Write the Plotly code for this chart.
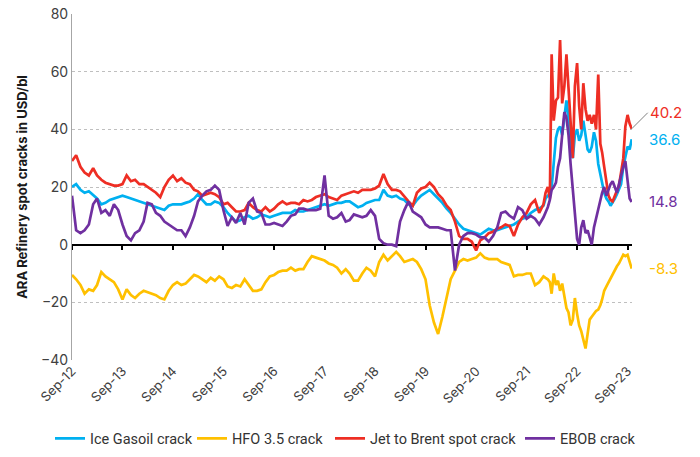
import pandas as pd
import plotly.graph_objects as go

# ---- dates: monthly Sep-12..Dec-21, then twice a month Jan-22..Oct-23 ----
monthly_dates = list(pd.date_range("2012-09-01", "2021-12-01", freq="MS"))
semi_dates = []
for d in pd.date_range("2022-01-01", "2023-09-01", freq="MS"):
    semi_dates += [d, d + pd.Timedelta(days=15)]
semi_dates.append(pd.Timestamp("2023-10-01"))
dates = monthly_dates + semi_dates

# ---- series values (USD/bl) ----
gasoil = [
    20, 21, 19, 18, 18.5, 17, 16, 14, 14.5, 15.5, 16, 16.5,
    17, 16.5, 16, 15.5, 15, 14.5, 14, 13.5, 13, 12.5, 12, 13.5,
    14, 14, 14, 14.5, 15, 16, 17.5, 15.5, 14, 14, 15, 14.5,
    13, 11, 9.5, 8, 8.5, 9.5, 10, 9, 9.5, 10.5, 10, 9.5,
    10, 10.5, 11, 11, 11, 12, 11.5, 11.5, 12, 12.5, 13, 13.5,
    14, 13.5, 14, 14.5, 14.5, 15, 15, 14, 13, 13.5, 14.5, 15,
    15.5, 15.5, 19, 17, 16.5, 17, 16, 15.5, 14, 13.5, 15.5, 17,
    18, 19, 17.5, 16, 14.5, 12.5, 11, 9, 7, 5.5, 5, 4.5,
    4, 3.5, 4.5, 5.5, 5, 5, 5.5, 6, 6.5, 7, 8, 9,
    9.5, 11, 12, 12.5,
    13.5, 16, 17, 17, 20, 29, 37, 40, 41, 38, 44, 50,
    44, 34, 30, 38, 40, 36, 38, 43, 38, 33, 32, 34,
    39, 36, 28, 24, 22, 18, 16, 15, 13.5, 14.5, 16, 17.5,
    19, 21, 27, 31, 34, 33, 36.6,
]
hfo = [
    -10.5, -12, -14, -17, -15.5, -16, -14, -9.5, -11, -12, -13, -15.5,
    -19, -15.5, -17.5, -18.5, -17, -16, -16.5, -17, -17.5, -18.5, -19, -16,
    -14, -13, -14, -13.5, -12, -10.5, -11, -12, -13, -11.5, -12.5, -11,
    -12, -14.5, -15, -14, -14.5, -12, -14, -16, -16, -15.5, -13, -11,
    -10.5, -9.5, -9, -9, -8, -9, -8.5, -8.5, -6, -4, -4.5, -5,
    -5.5, -6.5, -7, -8, -10, -8.5, -10, -12.5, -12.5, -10, -8, -9,
    -11, -6, -3.5, -5.5, -4, -2.5, -4, -6, -5.5, -5, -6, -8.5,
    -12, -21, -27, -31, -25, -18, -12, -9, -6, -5, -5.5, -5,
    -4.5, -3, -4.5, -5, -5, -5, -6, -6.5, -7, -11, -10.5, -10.5,
    -10, -10, -14, -13,
    -11, -11.5, -12, -13, -17, -10, -14, -12.5, -16, -13.5, -17.5, -22,
    -23.5, -28, -26, -18.5, -24, -28, -30, -33, -36, -31, -26, -25,
    -24, -23, -22.5, -21, -19, -16, -14.5, -13, -11.5, -10, -8.5, -7.5,
    -6.5, -5, -3.5, -4, -3.5, -6, -8.3,
]
jet = [
    29, 31, 27, 25, 24, 26.5, 24, 22.5, 21.5, 21, 20.5, 20.5,
    21, 24, 22, 22.5, 21, 21, 20, 19, 18, 16.5, 20, 22.5,
    24, 22, 23, 21.5, 21, 19, 18.5, 17, 17.5, 18, 17.5, 16.5,
    14, 14.5, 13, 11.5, 11.5, 12, 14.5, 13, 12, 11.5, 13, 11.5,
    12.5, 14, 15, 14, 14.5, 14.5, 14, 15.5, 15, 15.5, 16.5, 17,
    17.5, 16.5, 16, 15.5, 17, 17.5, 18, 18.5, 18, 19, 19, 19,
    19.5, 20.5, 24.5, 21, 19, 19, 18.5, 16.5, 15, 13.5, 18, 19.5,
    20, 21.5, 20, 17.5, 16, 13.5, 12, 8, 3, 2, 2, 1,
    -2, 1.5, 2.5, 4, 4.5, 5.5, 6, 7, 6.5, 3, 7, 9.5,
    11, 14, 15.5, 11,
    14, 18, 20, 16, 66, 43, 50, 51, 71, 49, 55, 66,
    55, 41, 30, 55, 63, 48, 40, 56, 47, 43, 45, 42,
    45, 40, 59, 35, 32, 27, 22, 17, 15.5, 15, 17, 18.5,
    20.5, 25, 30, 41, 45, 42, 40.2,
]
ebob = [
    17, 5, 4, 5, 7, 14, 16, 11, 12, 10, 14, 12,
    7, 3, 1.5, 4, 5, 8, 14.5, 14, 11, 10, 8, 7,
    6, 5, 5, 3, 6, 10, 15, 17, 18.5, 19, 20.5, 19,
    12, 6.5, 9.5, 7.5, 11, 7, 14.5, 16, 11.5, 11, 7, 7,
    7.5, 7, 6.5, 8, 10, 10.5, 12.5, 12.5, 12, 12, 12, 12.5,
    24, 10, 9, 9.5, 11, 8, 8.5, 10.5, 10, 9.5, 10, 12,
    10, 2, 0.5, 0, 0, -0.5, 8, 12, 15, 11.5, 10.5, 9.5,
    7, 6, 6, 6, 5.5, 5, 5, -9, 0, 3, 4, 4,
    3.5, 2.5, 2.5, 1, 3, 6, 11, 11.5, 10, 9, 13, 12,
    9, 10, 9, 7,
    9.5, 11, 13, 15.5, 19, 20, 21.5, 27, 30, 38, 46, 44,
    38, 28, 18, 12, 2, 0, 6, 8.5, 4, 5, 2, 0,
    6, 9, 12, 16, 18, 20, 17, 19, 21, 22, 20, 18,
    21, 24, 27, 29, 21, 16, 14.8,
]

series_names = ["Ice Gasoil crack", "HFO 3.5 crack", "Jet to Brent spot crack", "EBOB crack"]
series_values = [gasoil, hfo, jet, ebob]
series_colors = ["#00B0F0", "#FFC000", "#EE2E24", "#7030A0"]
legend_ids = ["legend", "legend2", "legend3", "legend4"]
legend_x = [50, 192, 330, 520]   # left edge of each legend entry, px
tick_labels_start = "2012-09-01"

W, H = 700, 457

fig = go.Figure()
for name, vals, col, lid in zip(series_names, series_values, series_colors, legend_ids):
    fig.add_trace(go.Scatter(x=dates, y=vals, name=name, mode="lines", legend=lid,
                             line=dict(color=col, width=2.7)))

# dummy trace so the zero-line axis is drawn
fig.add_trace(go.Scatter(x=[dates[0]], y=[None], xaxis="x2", showlegend=False,
                         hoverinfo="skip"))

xrange = ["2012-09-01", "2023-10-03"]
tick_font = dict(family="Inter, Roboto, sans-serif", size=13, color="#404040")

legend_style = dict(orientation="h", xref="container", yref="container",
                    xanchor="left", y=1 - 438.5 / H, yanchor="middle",
                    font=dict(family="Roboto, sans-serif", size=14.5, color="#333333"),
                    itemwidth=30, bgcolor="rgba(0,0,0,0)", borderwidth=0)
legends = {}
for lid, lx in zip(legend_ids, legend_x):
    legends[lid] = dict(legend_style, x=lx / W)

fig.update_layout(
    width=W, height=H,
    margin=dict(l=72, r=68, t=14, b=97, autoexpand=False),
    plot_bgcolor="white", paper_bgcolor="white",
    font=dict(family="Inter, Roboto, sans-serif", color="#404040"),
    xaxis=dict(range=xrange, type="date", tick0=tick_labels_start, dtick="M12",
               tickformat="%b-%y", tickangle=-45, showgrid=False, showline=False,
               ticks="", tickfont=tick_font, zeroline=False),
    xaxis2=dict(range=xrange, type="date", overlaying="x", anchor="free", position=1/3,
                tick0=tick_labels_start, dtick="M12", showticklabels=False,
                ticks="outside", ticklen=5, tickwidth=1.5, tickcolor="black",
                showline=True, linecolor="black", linewidth=1.5, showgrid=False,
                zeroline=False, layer="below traces"),
    yaxis=dict(range=[-40, 80], dtick=20, showgrid=True, gridcolor="#BFBFBF",
               griddash="dot", gridwidth=1, zeroline=False, showline=True,
               linecolor="#A6A6A6", linewidth=1, ticks="",
               tickfont=dict(family="Inter, Roboto, sans-serif", size=14, color="#404040"),
               title=dict(text="<b>ARA Refinery spot cracks in USD/bl</b>",
                          font=dict(size=13, color="#1a1a1a"), standoff=10)),
    showlegend=True,
    **legends,
)

# end-of-series value labels
last_date = dates[-1]
for name, vals, col in zip(series_names, series_values, series_colors):
    text = f"{vals[-1]:.1f}"
    if name == "Jet to Brent spot crack":
        fig.add_annotation(x=last_date, y=vals[-1], xref="x", yref="y", text=text,
                           showarrow=True, arrowhead=0, arrowwidth=1, arrowcolor="#7F7F7F",
                           ax=16, ay=-16, xanchor="left", yanchor="middle", standoff=0,
                           font=dict(size=15, color=col, family="Inter, Roboto, sans-serif"))
    else:
        fig.add_annotation(x=1.027, y=vals[-1], xref="paper", yref="y", text=text,
                           showarrow=False, xanchor="left", yanchor="middle",
                           font=dict(size=15, color=col, family="Inter, Roboto, sans-serif"))

fig.write_html("out.html", config={"displayModeBar": False},
               post_script="document.body.style.margin='0';document.body.style.overflow='hidden';")
